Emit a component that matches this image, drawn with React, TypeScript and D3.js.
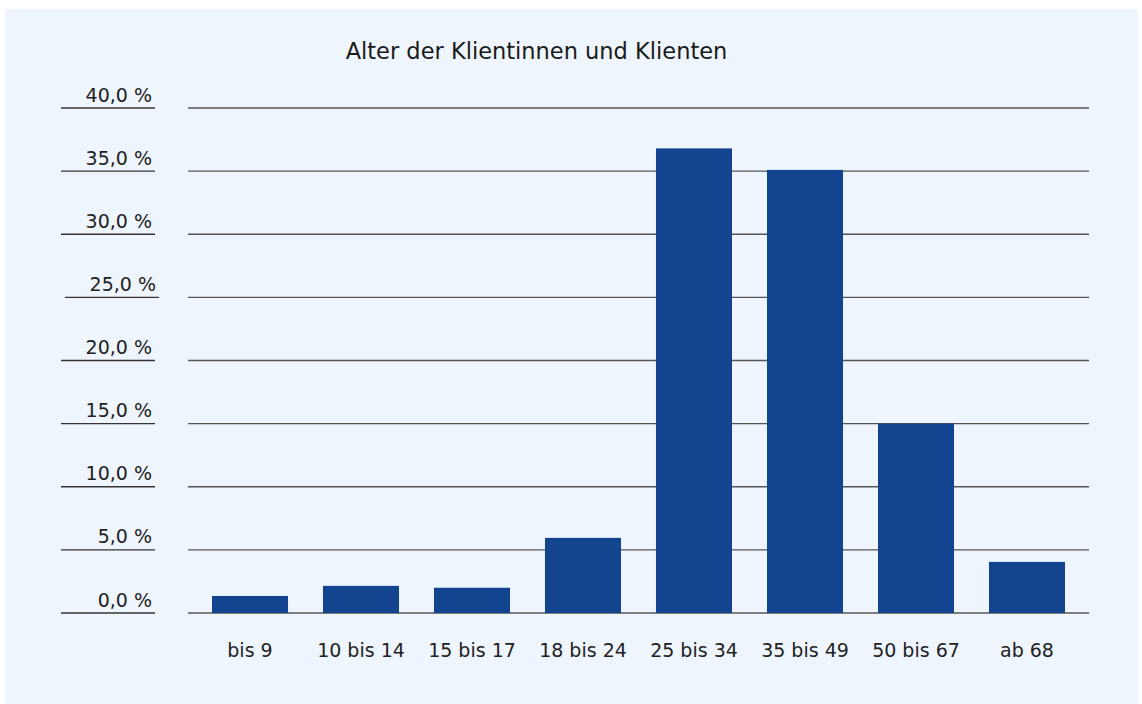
import React from "react";
import * as d3 from "d3";

const title = "Alter der Klientinnen und Klienten";
const categories = ["bis 9", "10 bis 14", "15 bis 17", "18 bis 24", "25 bis 34", "35 bis 49", "50 bis 67", "ab 68"];
const values = [1.35, 2.15, 2.0, 5.95, 36.8, 35.1, 15.0, 4.05];
const yTicks = [0, 5, 10, 15, 20, 25, 30, 35, 40];
const yTickLabels = ["0,0 %", "5,0 %", "10,0 %", "15,0 %", "20,0 %", "25,0 %", "30,0 %", "35,0 %", "40,0 %"];

const W = 1142;
const H = 704;
const FONT = "'DejaVu Sans', 'Liberation Sans', Arial, sans-serif";

export default function App() {
  const y = d3.scaleLinear().domain([0, 40]).range([613, 108]);
  const x = d3
    .scaleBand<string>()
    .domain(categories)
    .range([194.5, 1082.5])
    .paddingInner(0.315)
    .paddingOuter(0.1575);

  return (
    <div style={{ position: "absolute", left: 0, top: 0 }}>
      <svg width={W} height={H} style={{ display: "block" }}>
        <rect x={0} y={0} width={W} height={H} fill="#ffffff" />
        <rect x={5} y={9} width={1133} height={H - 9} fill="#eef5fc" />
        <text x={536.5} y={59} textAnchor="middle" fontFamily={FONT} fontSize={22.5} fill="#1a1a1a">
          {title}
        </text>
        {yTicks.map((t, i) => {
          const yy = y(t);
          const off = t === 25 ? 4 : 0;
          return (
            <g key={t}>
              <line x1={188} x2={1089} y1={yy} y2={yy} stroke="#555" strokeWidth={1.4} />
              <line x1={61 + off} x2={155 + off} y1={yy} y2={yy} stroke="#333" strokeWidth={1.4} />
              <text
                x={152 + off}
                y={yy - 6.5}
                textAnchor="end"
                fontFamily={FONT}
                fontSize={19}
                fill="#222"
              >
                {yTickLabels[i]}
              </text>
            </g>
          );
        })}
        {categories.map((c, i) => (
          <rect
            key={c}
            x={x(c)}
            y={y(values[i])}
            width={x.bandwidth()}
            height={y(0) - y(values[i])}
            fill="#134490"
          />
        ))}
        {categories.map((c) => (
          <text
            key={c}
            x={(x(c) as number) + x.bandwidth() / 2}
            y={657}
            textAnchor="middle"
            fontFamily={FONT}
            fontSize={19}
            fill="#222"
          >
            {c}
          </text>
        ))}
      </svg>
    </div>
  );
}
